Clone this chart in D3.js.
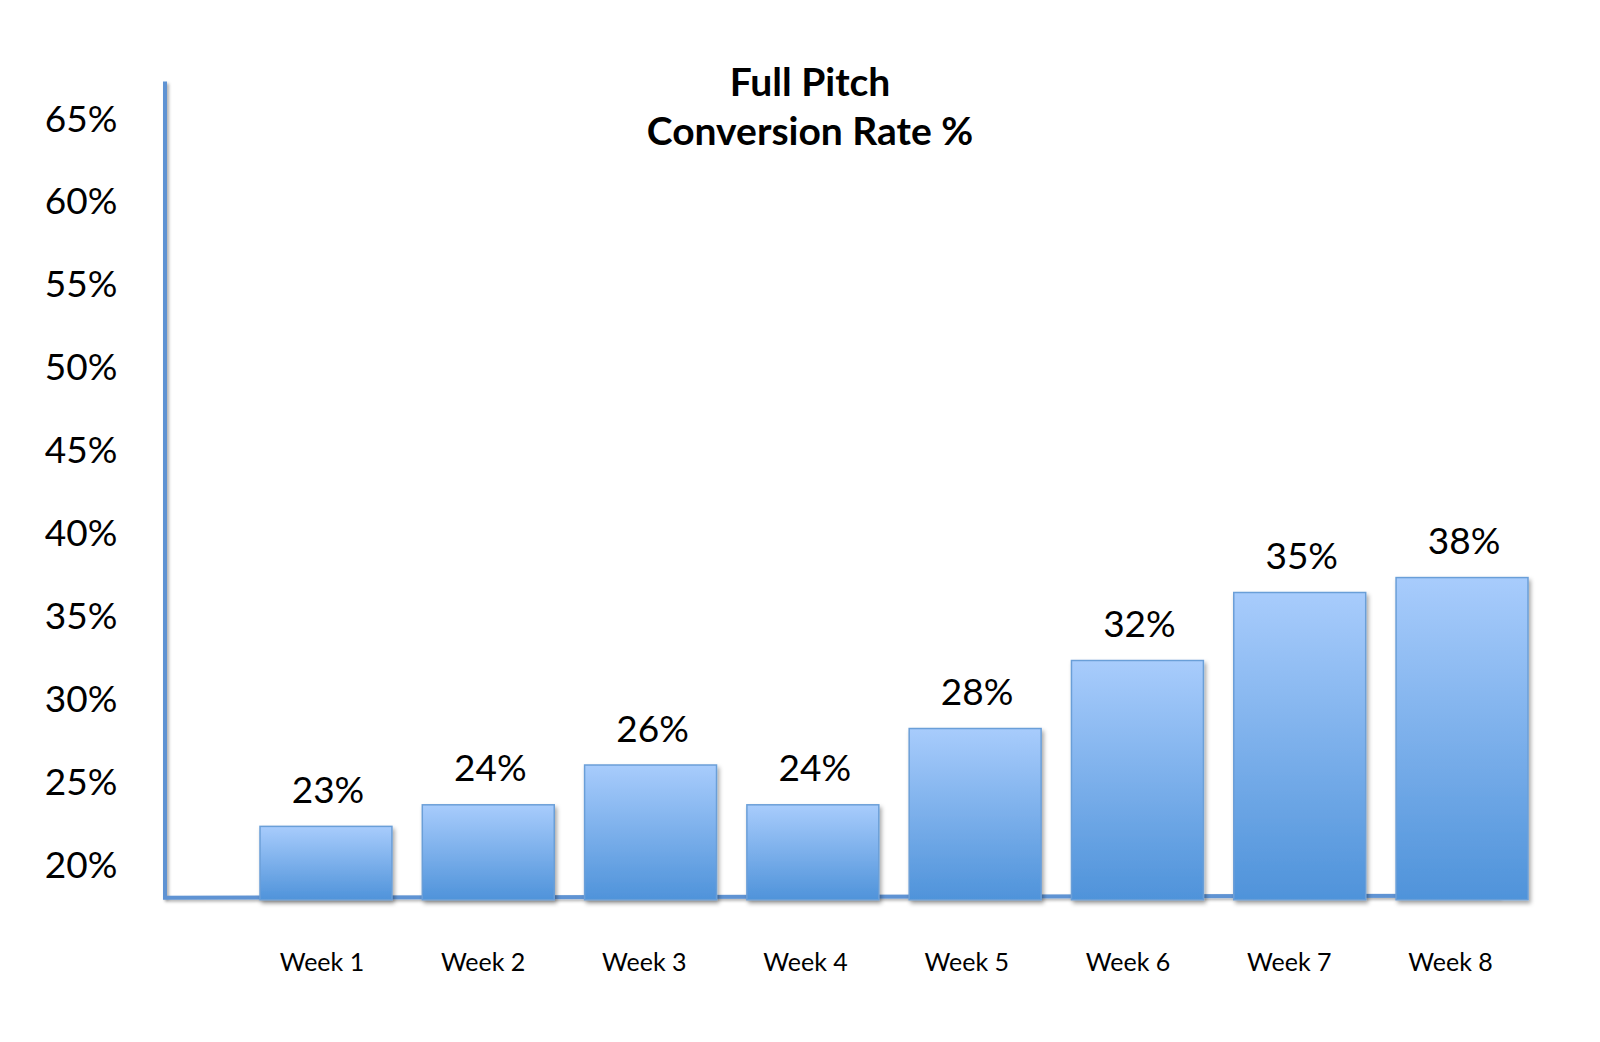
<!DOCTYPE html>
<html>
<head>
<meta charset="utf-8">
<script src="https://cdn.jsdelivr.net/npm/d3@7"></script>
<style>
  html, body { margin: 0; padding: 0; background: #fff; }
  svg { display: block; }
  text { font-family: Lato, "Open Sans", sans-serif; fill: #000; }
</style>
</head>
<body>
<svg id="chart" width="1600" height="1042"></svg>
<script>
// ---- data ----
const categories = ["Week 1", "Week 2", "Week 3", "Week 4", "Week 5", "Week 6", "Week 7", "Week 8"];
const values = [22.3, 23.6, 26.0, 23.6, 28.2, 32.3, 36.4, 37.3];       // bar heights
const valueLabels = ["23%", "24%", "26%", "24%", "28%", "32%", "35%", "38%"]; // data labels as printed
const yTicks = [20, 25, 30, 35, 40, 45, 50, 55, 60, 65];
const titleLines = ["Full Pitch", "Conversion Rate %"];
const yDomain = [18, 67.2];

// ---- layout ----
const svg = d3.select("#chart");
const axisX = 165;
const y = d3.scaleLinear().domain(yDomain).range([897.7, 81.6]);
const x = d3.scaleBand().domain(categories).range([260, 1528]).paddingInner(0.187).paddingOuter(0);
const xLab = d3.scalePoint().domain(categories).range([321.4, 1450]);

const defs = svg.append("defs");
const grad = defs.append("linearGradient").attr("id", "barGrad")
  .attr("x1", 0).attr("y1", 0).attr("x2", 0).attr("y2", 1);
grad.append("stop").attr("offset", "0%").attr("stop-color", "#a8ccfc");
grad.append("stop").attr("offset", "100%").attr("stop-color", "#4f93da");

const sh = defs.append("filter").attr("id", "shadow")
  .attr("x", "-10%").attr("y", "-10%").attr("width", "130%").attr("height", "130%");
sh.append("feDropShadow").attr("dx", 2).attr("dy", 3).attr("stdDeviation", 2.2)
  .attr("flood-color", "#000").attr("flood-opacity", 0.35);

const shLine = defs.append("filter").attr("id", "shadowLine")
  .attr("filterUnits", "userSpaceOnUse")
  .attr("x", 0).attr("y", 0).attr("width", 1600).attr("height", 1042);
shLine.append("feDropShadow").attr("dx", 2).attr("dy", 2).attr("stdDeviation", 1.8)
  .attr("flood-color", "#000").attr("flood-opacity", 0.3);

// title
svg.append("g").selectAll("text").data(titleLines).join("text")
  .attr("x", 810).attr("y", (d, i) => 81 + i * 49)
  .attr("text-anchor", "middle").attr("dominant-baseline", "central")
  .style("font-weight", "bold").style("font-size", "39px")
  .text(d => d);

// y axis line
svg.append("line")
  .attr("x1", axisX).attr("x2", axisX)
  .attr("y1", y(yDomain[1])).attr("y2", y(yDomain[0]))
  .attr("stroke", "#5f93d3").attr("stroke-width", 4)
  .attr("filter", "url(#shadowLine)");

// baseline
svg.append("line")
  .attr("x1", axisX - 2).attr("x2", 1500)
  .attr("y1", y(yDomain[0])).attr("y2", y(yDomain[0]) - 2)
  .attr("stroke", "#5f93d3").attr("stroke-width", 4)
  .attr("filter", "url(#shadowLine)");

// y tick labels (no tick marks)
const yAxis = d3.axisLeft(y).tickValues(yTicks).tickSize(0).tickPadding(0).tickFormat(d => d + "%");
const gy = svg.append("g").attr("transform", "translate(81,0)").call(yAxis);
gy.select(".domain").remove();
gy.selectAll("text")
  .attr("text-anchor", "middle").attr("x", 0).attr("dy", "0.35em")
  .style("font-family", "Lato, 'Open Sans', sans-serif")
  .style("font-size", "37px").style("fill", "#000");

// bars
svg.append("g").selectAll("rect").data(categories).join("rect")
  .attr("x", d => x(d))
  .attr("y", (d, i) => y(values[i]))
  .attr("width", x.bandwidth())
  .attr("height", (d, i) => y(yDomain[0]) - y(values[i]) + 2)
  .attr("fill", "url(#barGrad)")
  .attr("stroke", "#6b9fd8").attr("stroke-width", 1.5)
  .attr("filter", "url(#shadow)");

// data labels
svg.append("g").selectAll("text").data(categories).join("text")
  .attr("x", d => x(d) + x.bandwidth() / 2 + 2)
  .attr("y", (d, i) => y(values[i]) - 38)
  .attr("text-anchor", "middle").attr("dominant-baseline", "central")
  .style("font-size", "37px")
  .text((d, i) => valueLabels[i]);

// x axis labels
const xAxis = d3.axisBottom(xLab).tickSize(0).tickPadding(0);
const gx = svg.append("g").attr("transform", "translate(0,962)").call(xAxis);
gx.select(".domain").remove();
gx.selectAll("text")
  .attr("dy", "0.35em").attr("y", 0)
  .style("font-family", "Lato, 'Open Sans', sans-serif")
  .style("font-size", "25px").style("fill", "#000");
</script>
</body>
</html>
